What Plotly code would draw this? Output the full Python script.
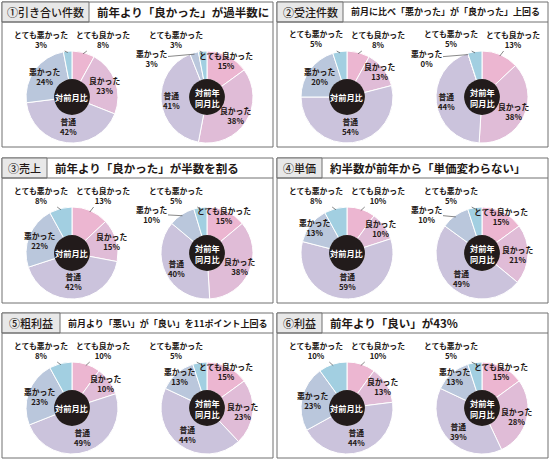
import math
import plotly.graph_objects as go

W, H = 550, 465

# ---- data ----
categories = ["とても良かった", "良かった", "普通", "悪かった", "とても悪かった"]
tags = ["①引き合い件数", "②受注件数", "③売上", "④単価", "⑤粗利益", "⑥利益"]
headlines = [
    "前年より「良かった」が過半数に",
    "前月に比べ「悪かった」が「良かった」上回る",
    "前年より「良かった」が半数を割る",
    "約半数が前年から「単価変わらない」",
    "前月より「悪い」が「良い」を11ポイント上回る",
    "前年より「良い」が43%",
]
# 対前月比 (left pie of each panel)
monthly = [
    [8, 23, 42, 24, 3],
    [8, 13, 54, 20, 5],
    [13, 15, 42, 22, 8],
    [10, 10, 59, 13, 8],
    [10, 10, 49, 23, 8],
    [10, 13, 44, 23, 10],
]
# 対前年同月比 (right pie of each panel)
yearly = [
    [15, 38, 41, 3, 3],
    [13, 38, 44, 0, 5],
    [15, 38, 40, 10, 5],
    [15, 21, 49, 10, 5],
    [15, 23, 44, 13, 5],
    [15, 28, 39, 13, 5],
]
center_labels = ["対前月比", "対前年<br>同月比"]

# ---- styling / layout ----
colors = ["#ecb6d1", "#e0bcd7", "#cbc3dc", "#bac7dc", "#a2cfe1"]
FONT = "Noto Sans CJK JP"
INK = "#231815"
BORDER = "#707070"

col_x = [2, 277]
row_y = [2, 158, 313]
PW, PH = 271, 145
HEAD_H = 20
tag_w = [87, 66, 45, 45, 58, 45]
head_size = [11.5, 9, 11.5, 11.5, 9, 11.5]
R = 46
pie_dx = [70, 205]
pie_dy = 95


def px(x):
    return x / W


def py(y):
    return 1 - y / H


fig = go.Figure()
shapes = []
annotations = []


def note(x, y, text, font, xanchor="center", **kw):
    annotations.append(dict(x=px(x), y=py(y), xref="paper", yref="paper",
                            text=text, font=font, xanchor=xanchor,
                            yanchor="middle", **kw))


def add_pie(vals, cx, cy, center_text):
    fig.add_trace(go.Pie(
        values=vals, labels=categories, sort=False, direction="clockwise",
        rotation=0, hole=0.38, textinfo="none", hoverinfo="label+value",
        showlegend=False,
        marker=dict(colors=colors, line=dict(color="white", width=1)),
        domain=dict(x=[px(cx - R), px(cx + R)], y=[py(cy + R), py(cy - R)]),
    ))
    hr = R * 0.39
    shapes.append(dict(type="circle", xref="paper", yref="paper",
                       x0=px(cx - hr), x1=px(cx + hr), y0=py(cy + hr), y1=py(cy - hr),
                       fillcolor="#221b1b", line=dict(width=0)))
    note(cx, cy, center_text, dict(family=FONT, size=8.2, color="white", weight=700),
         showarrow=False)

    tot = sum(vals)
    start = 0
    for i, v in enumerate(vals):
        mid = math.radians((start + v / 2) / tot * 360)
        start += v
        txt = f"{categories[i]}<br>{v}%"
        lab_font = dict(family=FONT, size=7.8, color=INK, weight=700)
        outside = None
        if i == 4:
            outside = (cx - 31, cy - 58)
        elif i == 0 and v < 15:
            outside = (cx + 31, cy - 58)
        elif i == 3 and v < 13:
            outside = (cx - 56, cy - 39)
        if outside:
            tx = cx + R * 0.97 * math.sin(mid)
            ty = cy - R * 0.97 * math.cos(mid)
            note(tx, ty, txt, lab_font, showarrow=True,
                 ax=outside[0] - tx, ay=outside[1] - ty,
                 arrowhead=0, arrowwidth=0.7, arrowcolor="#555", standoff=0)
        else:
            # wide labels sit further out when they lie beside the centre disc
            rf = 0.62 + 0.15 * abs(math.sin(mid)) if v >= 20 else 0.9
            lx = cx + R * rf * math.sin(mid)
            ly = cy - R * rf * math.cos(mid)
            note(lx, ly, txt, lab_font, showarrow=False)


for k in range(6):
    x0 = col_x[k % 2]
    y0 = row_y[k // 2]
    # panel frame, header band and tag box
    shapes.append(dict(type="rect", xref="paper", yref="paper",
                       x0=px(x0), x1=px(x0 + PW), y0=py(y0 + PH), y1=py(y0),
                       line=dict(color=BORDER, width=1)))
    shapes.append(dict(type="rect", xref="paper", yref="paper",
                       x0=px(x0), x1=px(x0 + tag_w[k]), y0=py(y0 + HEAD_H), y1=py(y0),
                       fillcolor="#e8e8e8", line=dict(color=BORDER, width=1)))
    shapes.append(dict(type="line", xref="paper", yref="paper",
                       x0=px(x0), x1=px(x0 + PW), y0=py(y0 + HEAD_H), y1=py(y0 + HEAD_H),
                       line=dict(color=BORDER, width=1)))
    note(x0 + tag_w[k] / 2, y0 + HEAD_H / 2, tags[k],
         dict(family=FONT, size=11, color=INK, weight=500), showarrow=False)
    note(x0 + tag_w[k] + 6, y0 + HEAD_H / 2, headlines[k],
         dict(family=FONT, size=head_size[k], color=INK, weight=700),
         xanchor="left", showarrow=False)

    add_pie(monthly[k], x0 + pie_dx[0], y0 + pie_dy, center_labels[0])
    add_pie(yearly[k], x0 + pie_dx[1], y0 + pie_dy, center_labels[1])

fig.update_layout(
    width=W, height=H,
    margin=dict(l=0, r=0, t=0, b=0),
    paper_bgcolor="white", plot_bgcolor="white",
    shapes=shapes, annotations=annotations,
)

# drop the browser's default body margin so the figure sits at the page corner
fig.write_html("out.html", config={"displayModeBar": False},
               post_script="document.body.style.margin='0';")
